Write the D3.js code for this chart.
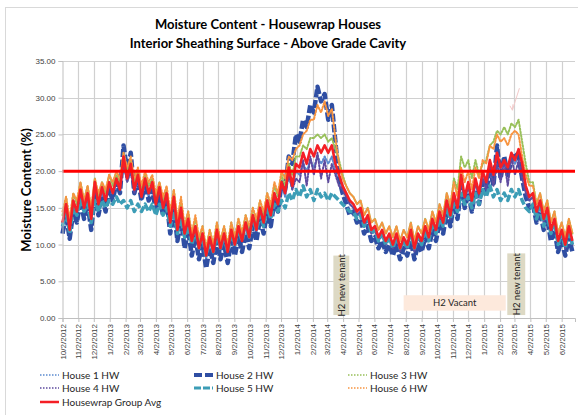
<!DOCTYPE html>
<html><head><meta charset="utf-8">
<script src="https://cdn.jsdelivr.net/npm/d3@7"></script>
<style>body{margin:0;background:#fff}svg{display:block}</style>
</head><body>
<svg id="c" width="578" height="415"></svg>
<script>
// ---------------- DATA (weekly readings starting 10/2/2012) ----------------
const sampleStart = [2012, 9, 2];
const sampleStepDays = 7;
const seriesNames = ["House 1 HW","House 2 HW","House 3 HW","House 4 HW","House 5 HW","House 6 HW","Housewrap Group Avg"];
const house1 = [12.5,15.0,11.5,15.5, 14.0,17.0,14.5,16.5,13.0, 18.0,15.0,17.0,15.5, 18.0,16.5,18.5,17.0,21.5, 18.5,20.5,17.0,19.0, 16.0,18.5,16.5,18.0, 15.0,17.0,14.5,16.5, 12.5,16.0,11.5,14.5,11.0, 13.0,10.0,12.0,9.0, 11.0,8.0,10.5,8.5,11.5, 9.0,11.0,8.5,11.5, 9.5,12.0,10.0,12.5, 10.5,13.5,11.5,14.5,12.5, 15.5,13.5,16.5,15.0, 18.0,16.5,19.5,17.5,20.0, 19.5,21.0,20.0,21.5, 20.5,22.0,21.0,22.0, 21.0,22.0,20.0,18.5,17.5, 16.5,15.5,15.0,14.0, 14.5,12.5,13.5,11.5, 12.0,10.5,11.5,10.0,11.0, 9.5,11.0,9.0,10.5, 9.5,11.5,9.0,11.0,10.0, 12.0,10.5,13.0,11.5, 14.0,12.5,15.5,13.5, 16.5,14.5,19.0,16.0,18.0, 15.5,18.5,16.5,19.5, 18.0,21.0,19.0,22.0,20.0, 21.0,20.0,22.0,21.0, 22.0,20.0,17.5,16.0, 16.5,14.0,15.5,13.0, 14.5,11.5,13.0,10.0,11.5, 9.5,12.0,10.0];
const house2 = [11.5,14.0,10.8,14.5, 13.0,16.0,13.5,15.5,12.0, 17.0,14.0,16.5,14.5, 17.5,16.0,18.5,17.0,23.5, 20.0,22.5,17.0,19.0, 16.0,18.5,16.0,17.5, 14.5,16.5,14.0,16.0, 11.5,15.0,10.5,13.5,9.5, 12.0,8.5,11.0,8.0, 10.0,6.8,9.5,7.5,10.5, 8.0,10.0,7.5,10.5, 8.5,11.0,9.0,11.5, 9.5,12.5,10.5,13.5,11.5, 14.5,12.5,16.0,14.5, 18.5,17.5,22.0,21.0,25.0, 24.0,27.0,26.0,29.0, 28.0,31.5,29.5,30.5, 27.0,29.0,24.0,19.0,17.0, 15.5,14.0,14.5,13.0, 13.5,11.5,12.5,10.5, 11.0,9.5,10.5,9.0,10.0, 8.5,10.0,8.0,9.5, 8.5,10.5,8.0,10.0,9.0, 11.0,9.5,12.0,10.5, 13.0,11.5,14.5,12.5, 15.5,13.5,18.0,15.0,17.0, 14.5,17.5,15.5,18.5, 17.0,20.5,18.0,23.5,19.0, 22.0,19.5,21.5,22.5, 22.0,19.0,16.5,15.0, 15.5,13.0,14.5,12.0, 13.5,10.5,12.0,9.0,10.5, 8.5,11.0,9.0];
const house3 = [14.0,16.5,13.0,17.0, 15.5,18.5,16.0,18.0,14.5, 19.0,16.5,18.5,17.0, 19.5,18.0,19.5,18.5,22.5, 20.0,21.5,18.5,20.0, 17.5,19.5,18.0,19.0, 16.5,18.5,16.0,17.5, 14.0,17.5,13.0,16.0,12.5, 14.5,11.5,13.5,10.5, 12.5,9.5,12.0,10.0,13.0, 10.5,12.5,10.0,13.0, 11.0,13.5,11.5,14.0, 12.0,15.0,13.0,16.0,14.0, 17.0,15.0,18.0,16.5, 19.5,18.0,21.0,19.5,22.0, 22.0,23.5,23.0,24.5, 24.5,25.0,24.5,25.0, 24.0,24.5,23.0,21.5,19.5, 18.0,17.0,16.5,15.5, 16.0,14.0,15.0,13.0, 13.5,12.0,13.0,11.5,12.5, 11.0,12.5,10.5,12.0, 11.0,13.0,10.5,12.5,11.5, 13.5,12.0,14.5,13.0, 15.5,14.0,17.0,15.0, 19.0,17.5,22.0,20.5,21.5, 19.0,21.5,19.5,21.0, 21.5,23.5,24.0,25.5,25.0, 26.0,25.0,26.5,26.0, 27.0,24.0,21.0,18.5, 18.5,15.5,17.0,14.5, 16.0,13.0,14.5,11.5,13.0, 11.0,13.5,11.5];
const house4 = [13.0,15.0,12.0,15.5, 14.5,17.0,15.0,16.5,13.5, 18.0,15.5,17.5,16.0, 18.0,17.0,18.5,17.5,21.0, 18.5,20.0,17.0,19.0, 16.5,18.5,17.0,18.0, 15.5,17.5,15.0,16.5, 13.0,16.0,12.0,14.5,11.5, 13.0,10.5,12.5,9.5, 11.5,8.5,11.0,9.0,12.0, 9.5,11.5,9.0,12.0, 10.0,12.5,10.5,13.0, 11.0,14.0,12.0,15.0,13.0, 16.0,14.0,16.5,15.5, 18.0,17.0,19.5,17.5,19.0, 18.5,21.5,18.0,22.0, 19.5,22.5,19.0,21.5, 18.5,21.0,19.5,18.0,17.5, 16.5,15.5,15.0,14.0, 14.5,12.5,13.5,11.5, 12.0,10.5,11.5,10.0,11.0, 9.5,11.0,9.0,10.5, 9.5,11.5,9.0,11.0,10.0, 12.0,10.5,13.0,11.5, 14.0,12.5,15.5,13.5, 16.5,14.5,18.5,16.0,18.0, 15.5,18.5,16.5,19.0, 17.5,20.5,18.0,21.0,18.5, 21.5,18.0,22.0,19.5, 21.5,19.0,17.0,16.0, 16.5,14.0,15.5,13.0, 14.5,11.5,13.0,10.0,11.5, 9.5,12.0,10.0];
const house5 = [12.5,14.5,11.5,15.0, 14.0,16.0,14.5,15.5,13.0, 16.0,14.5,16.0,15.0, 16.0,15.5,16.5,15.5,16.0, 15.0,16.0,14.5,15.5, 14.5,15.5,14.5,15.5, 14.0,15.5,14.0,15.0, 12.5,14.5,11.5,13.5,11.0, 12.5,10.0,12.0,9.5, 11.0,8.5,10.5,9.0,11.5, 9.5,11.0,9.0,11.5, 10.0,12.0,10.5,12.5, 11.0,13.5,12.0,14.0,12.5, 15.0,13.5,15.5,14.5, 16.0,15.0,17.0,16.0,17.5, 16.5,18.0,16.5,17.5, 16.0,17.5,16.5,17.0, 16.0,17.0,16.5,16.0,15.5, 15.0,14.5,14.5,13.5, 14.0,12.5,13.5,11.5, 12.0,10.5,11.5,10.0,11.0, 9.5,11.0,9.5,10.5, 9.5,11.5,9.5,11.0,10.0, 12.0,10.5,13.0,11.5, 13.5,12.5,15.0,13.5, 15.5,14.5,17.0,15.5,16.5, 15.0,17.0,15.5,17.5, 16.5,18.0,16.5,17.5,16.0, 17.0,16.0,17.5,16.5, 17.5,16.0,15.0,14.5, 15.5,13.5,15.0,12.5, 14.0,11.5,13.0,10.0,11.5, 9.5,12.0,10.0];
const house6 = [14.5,16.5,13.5,17.0, 16.0,18.5,16.0,18.0,15.0, 19.0,17.0,18.5,17.5, 19.5,18.5,20.0,19.0,22.5, 20.5,22.0,19.0,20.5, 18.0,20.0,18.5,19.5, 17.0,18.5,16.5,18.0, 14.5,17.5,13.5,16.5,12.5, 14.5,11.5,14.0,11.0, 12.5,9.5,12.0,10.0,13.0, 10.5,12.5,10.0,13.0, 11.0,13.5,11.5,14.0, 12.5,15.0,13.5,16.0,14.5, 17.0,15.5,18.5,17.0, 20.0,19.0,22.0,21.5,23.0, 23.5,25.0,25.5,27.0, 27.0,29.0,28.0,29.5, 27.5,28.5,24.5,21.0,19.0, 18.0,17.0,16.5,15.5, 16.0,14.0,15.0,13.0, 13.5,12.0,13.0,11.5,12.5, 11.0,12.5,10.5,12.0, 11.0,13.0,10.5,12.5,11.5, 13.5,12.0,14.5,13.0, 15.5,14.0,17.0,15.5, 18.5,16.5,20.5,18.5,20.0, 17.5,20.5,19.0,21.5, 21.0,23.5,23.0,25.0,24.0, 24.5,23.5,25.0,25.5, 25.0,22.0,19.5,18.0, 18.0,15.5,17.0,14.5, 16.0,13.0,14.5,11.5,13.0, 11.0,13.5,11.5];
const groupAvg = [13.0,15.5,12.0,16.0, 14.5,17.5,15.0,17.0,13.5, 18.5,15.5,17.8,16.0, 18.5,17.0,19.0,17.5,22.0, 19.0,21.0,17.5,19.5, 16.5,19.0,17.0,18.5, 15.5,17.8,15.0,17.0, 13.0,16.5,12.0,15.0,11.5, 13.5,10.5,12.5,9.5, 11.5,8.5,11.0,9.0,12.0, 9.5,11.5,9.0,12.0, 10.0,12.5,10.5,13.0, 11.0,14.0,12.0,15.0,13.0, 16.0,14.0,17.0,15.5, 18.5,17.0,20.5,18.0,21.0, 20.5,22.5,21.0,23.0, 22.0,23.5,22.5,23.5, 22.5,23.5,21.0,19.5,18.0, 17.0,16.0,15.5,14.5, 15.0,13.0,14.0,12.0, 12.5,11.0,12.0,10.5,11.5, 10.0,11.5,9.5,11.0, 10.0,12.0,9.5,11.5,10.5, 12.5,11.0,13.5,12.0, 14.5,13.0,16.0,14.0, 17.0,15.0,19.5,16.5,18.5, 16.0,19.0,17.0,20.0, 18.5,21.5,19.5,22.5,20.5, 21.5,20.5,22.5,21.5, 23.0,21.0,18.0,16.5, 17.0,14.5,16.0,13.5, 15.0,12.0,13.5,10.5,12.0, 10.0,12.5,10.5];
const tickLabels = ["10/2/2012","11/2/2012","12/2/2012","1/2/2013","2/2/2013","3/2/2013","4/2/2013","5/2/2013","6/2/2013","7/2/2013","8/2/2013","9/2/2013","10/2/2013","11/2/2013","12/2/2013","1/2/2014","2/2/2014","3/2/2014","4/2/2014","5/2/2014","6/2/2014","7/2/2014","8/2/2014","9/2/2014","10/2/2014","11/2/2014","12/2/2014","1/2/2015","2/2/2015","3/2/2015","4/2/2015","5/2/2015","6/2/2015"];
const yTicks = [0,5,10,15,20,25,30,35];
const threshold = 20;
const axisEnd = "6/28/2015";
const annotations = [
  {text:"H2 new tenant", from:"3/14/2014", to:"4/14/2014", yTop:8.5, yBot:0.4, vertical:true},
  {text:"H2 Vacant", from:"7/29/2014", to:"2/13/2015", yTop:3.1, yBot:1.0, vertical:false},
  {text:"H2 new tenant", from:"2/16/2015", to:"3/23/2015", yTop:8.8, yBot:0.4, vertical:true}
];
// ---------------------------------------------------------------------------

(function(){
const styles = [
  {color:"#5b8bd0", width:2, dash:"1.6,1.8"},
  {color:"#2f4ea3", width:4.5, dash:"8,2.5"},
  {color:"#98c05a", width:2, dash:"1.6,1.8"},
  {color:"#5e4b9f", width:2, dash:"1.6,1.8"},
  {color:"#3c9db6", width:3.5, dash:"7,2.5"},
  {color:"#f79440", width:2, dash:"1.6,1.8"},
  {color:"#f41f25", width:2.6, dash:null}
];
const allSeries = [house1,house2,house3,house4,house5,house6,groupAvg];
const parse = d3.timeParse("%m/%d/%Y");
const sampleDate = i => new Date(sampleStart[0], sampleStart[1], sampleStart[2] + i*sampleStepDays);

const svg = d3.select("#c");
const pL = 62.5, pR = 575, pT = 61, pB = 318;
const x = d3.scaleTime().domain([parse(tickLabels[0]), parse(axisEnd)]).range([pL, pR]);
const y = d3.scaleLinear().domain([0, 35]).range([pB, pT]);

svg.append("rect").attr("x",5.5).attr("y",7.5).attr("width",700).attr("height",500)
  .attr("fill","none").attr("stroke","#d9d9d9").attr("stroke-width",1);

const tickDates = tickLabels.map(parse);
svg.append("g").selectAll("line").data(yTicks.slice(1)).join("line")
  .attr("x1",pL).attr("x2",pR).attr("y1",d=>Math.round(y(d))+0.5).attr("y2",d=>Math.round(y(d))+0.5)
  .attr("stroke","#d0d0d0").attr("stroke-width",1.2);
svg.append("g").selectAll("line").data(tickDates.slice(1)).join("line")
  .attr("x1",d=>Math.round(x(d))+0.5).attr("x2",d=>Math.round(x(d))+0.5).attr("y1",pT).attr("y2",pB)
  .attr("stroke","#d0d0d0").attr("stroke-width",1.2);

annotations.forEach(a=>{
  const x0 = x(parse(a.from)), x1 = x(parse(a.to)), y0 = y(a.yTop), y1 = y(a.yBot);
  svg.append("rect").attr("x",x0).attr("y",y0).attr("width",x1-x0).attr("height",y1-y0)
    .attr("fill", a.vertical ? "#ddd9c4" : "#fde9dc");
  const cx = (x0+x1)/2, cy = (y0+y1)/2;
  const t = svg.append("text").attr("font-family","Lato, 'Open Sans', sans-serif").attr("font-size",9.5)
    .attr("fill","#262626").attr("text-anchor","middle").attr("dominant-baseline","central").text(a.text);
  if (a.vertical) t.attr("transform",`translate(${cx},${cy}) rotate(-90)`);
  else t.attr("x",cx).attr("y",cy);
});

const line = d3.line().x((d,i)=>x(sampleDate(i))).y(d=>y(d));
allSeries.forEach((s,k)=>{
  const st = styles[k];
  svg.append("path").datum(s).attr("d",line).attr("fill","none")
    .attr("stroke",st.color).attr("stroke-width",st.width)
    .attr("stroke-dasharray",st.dash).attr("stroke-linejoin","round")
    .attr("stroke-linecap", st.dash && st.width<3 ? "round" : "butt");
});

svg.append("line").attr("x1",pL).attr("x2",pR).attr("y1",y(threshold)).attr("y2",y(threshold))
  .attr("stroke","#ff0000").attr("stroke-width",3);

const arrowDate = parse("2/26/2015");
svg.append("line").attr("x1",x(arrowDate)+7).attr("y1",y(31.3)).attr("x2",x(arrowDate)).attr("y2",y(28.3))
  .attr("stroke","#f3caca").attr("stroke-width",1);
svg.append("path").attr("d",`M${x(arrowDate)-2.5},${y(28.9)} L${x(arrowDate)},${y(28.3)} L${x(arrowDate)+0.5},${y(29.1)}`)
  .attr("fill","none").attr("stroke","#f3caca").attr("stroke-width",1);

const gy = svg.append("g").attr("transform",`translate(${pL},0)`)
  .call(d3.axisLeft(y).tickValues(yTicks).tickFormat(d3.format(".2f")).tickSize(4).tickPadding(3));
const gx = svg.append("g").attr("transform",`translate(0,${pB})`)
  .call(d3.axisBottom(x).tickValues(tickDates).tickFormat((d,i)=>tickLabels[i]).tickSize(4).tickPadding(3));
[gy,gx].forEach(g=>{
  g.select(".domain").attr("stroke","#bfbfbf");
  g.selectAll(".tick line").attr("stroke","#bfbfbf");
  g.selectAll("text").attr("fill","#404040").attr("font-family","'Liberation Sans', Arial, sans-serif").attr("font-size",8);
});
gx.selectAll("text").attr("text-anchor","end").attr("dy",null).attr("dominant-baseline","central")
  .attr("transform","rotate(-90)").attr("x",-6).attr("y",0);

svg.append("text").attr("x",268).attr("y",29).attr("text-anchor","middle")
  .attr("font-family","Lato, sans-serif").attr("font-weight","bold").attr("font-size",13).attr("fill","#000")
  .text("Moisture Content - Housewrap Houses");
svg.append("text").attr("x",268).attr("y",48).attr("text-anchor","middle")
  .attr("font-family","Lato, sans-serif").attr("font-weight","bold").attr("font-size",13).attr("fill","#000")
  .text("Interior Sheathing Surface - Above Grade Cavity");
svg.append("text").attr("transform","translate(31,190) rotate(-90)").attr("text-anchor","middle")
  .attr("font-family","Lato, sans-serif").attr("font-weight","bold").attr("font-size",13).attr("fill","#000")
  .text("Moisture Content (%)");

const legPos = [[40,375],[194,375],[348,375],[40,388],[194,388],[348,388],[40,402]];
seriesNames.forEach((n,k)=>{
  const st = styles[k], [lx,ly] = legPos[k];
  svg.append("line").attr("x1",lx).attr("x2",lx+19).attr("y1",ly).attr("y2",ly)
    .attr("stroke",st.color).attr("stroke-width",k===1?4:(k===4?3:(k===6?2.5:1.5)))
    .attr("stroke-dasharray", k===1?"8,3": k===4?"7,2": st.dash ? "1.5,1.5" : null);
  svg.append("text").attr("x",lx+22).attr("y",ly).attr("dominant-baseline","central")
    .attr("font-family","Lato, sans-serif").attr("font-size",10).attr("fill","#262626").text(n);
});
})();
</script>
</body></html>
